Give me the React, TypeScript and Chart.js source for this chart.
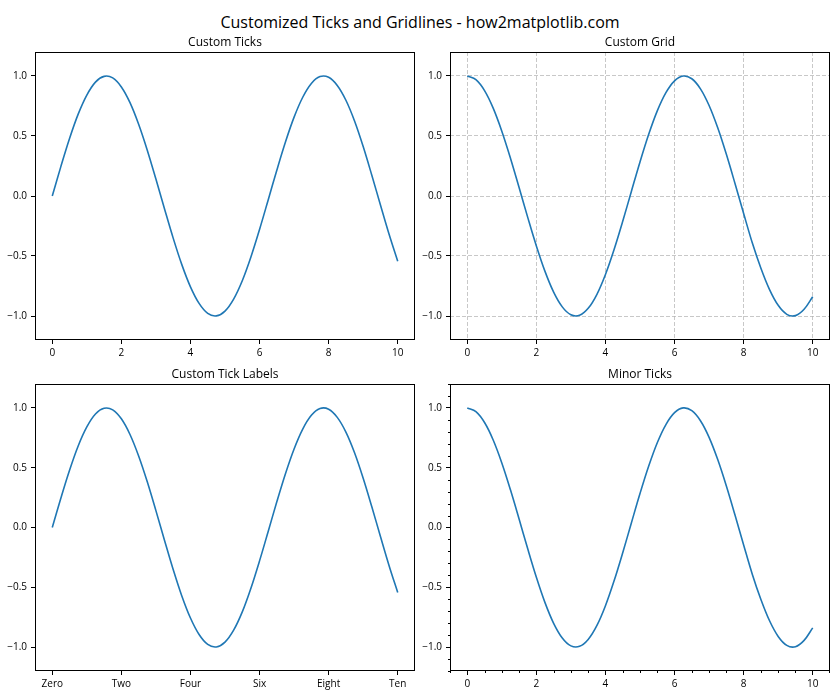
import React, { useEffect, useRef } from "react";
import { Chart, registerables } from "chart.js";

Chart.register(...registerables);

const mainTitle = "Customized Ticks and Gridlines - how2matplotlib.com";
const subplotTitles = ["Custom Ticks", "Custom Grid", "Custom Tick Labels", "Minor Ticks"];

const xValues = [
  0, 0.25, 0.5, 0.75, 1, 1.25, 1.5, 1.75, 2, 2.25, 2.5, 2.75, 3, 3.25, 3.5, 3.75, 4, 4.25, 4.5, 4.75,
  5, 5.25, 5.5, 5.75, 6, 6.25, 6.5, 6.75, 7, 7.25, 7.5, 7.75, 8, 8.25, 8.5, 8.75, 9, 9.25, 9.5, 9.75, 10,
];

const sineValues = [
  0, 0.247, 0.479, 0.682, 0.841, 0.949, 0.997, 0.984, 0.909, 0.778, 0.598, 0.382, 0.141, -0.108, -0.351,
  -0.572, -0.757, -0.895, -0.978, -0.999, -0.959, -0.859, -0.706, -0.508, -0.279, -0.033, 0.215, 0.45,
  0.657, 0.823, 0.938, 0.995, 0.989, 0.921, 0.798, 0.625, 0.412, 0.173, -0.075, -0.319, -0.544,
];

const cosineValues = [
  1, 0.969, 0.878, 0.732, 0.54, 0.315, 0.071, -0.178, -0.416, -0.628, -0.801, -0.924, -0.99, -0.994,
  -0.936, -0.821, -0.654, -0.446, -0.211, 0.038, 0.284, 0.512, 0.709, 0.861, 0.96, 1.0, 0.977, 0.893,
  0.754, 0.568, 0.347, 0.104, -0.146, -0.39, -0.602, -0.78, -0.911, -0.986, -0.997, -0.944, -0.839,
];

const xTickValues = [0, 2, 4, 6, 8, 10];
const yTickValues = [-1, -0.5, 0, 0.5, 1];
const wordTickLabels = ["Zero", "Two", "Four", "Six", "Eight", "Ten"];

const FONT = "'Open Sans', 'Noto Sans', 'DejaVu Sans', sans-serif";
const LINE_COLOR = "#1f77b4";

type PanelProps = {
  title: string;
  values: number[];
  grid: boolean;
  words: boolean;
  minor: boolean;
  left: number;
  top: number;
  width: number;
  height: number;
  axisHeight: number;
};

const boxPlugin = {
  id: "axesBox",
  afterDraw(chart: any) {
    const { ctx, chartArea } = chart;
    const l = Math.round(chartArea.left) + 0.5;
    const t = Math.round(chartArea.top) + 0.5;
    const r = Math.round(chartArea.right) - 0.5;
    const b = Math.round(chartArea.bottom) - 0.5;
    ctx.save();
    ctx.strokeStyle = "#000";
    ctx.lineWidth = 1;
    ctx.strokeRect(l, t, r - l, b - t);
    ctx.restore();
  },
};

const minorTickPlugin = {
  id: "minorTicks",
  afterDraw(chart: any) {
    const opts = chart.options.plugins.minorTicks;
    if (!opts || !opts.enabled) return;
    const { ctx, chartArea, scales } = chart;
    const xs = scales.x;
    const ys = scales.y;
    ctx.save();
    ctx.strokeStyle = "#000";
    ctx.lineWidth = 1;
    ctx.beginPath();
    for (let k = -2; k <= 22; k++) {
      if (k % 4 === 0) continue;
      const v = k * 0.5;
      if (v < xs.min - 1e-9 || v > xs.max + 1e-9) continue;
      let px = Math.round(xs.getPixelForValue(v)) + 0.5;
      if (px > chartArea.right) px = Math.round(chartArea.right) - 0.5;
      const b = Math.round(chartArea.bottom);
      ctx.moveTo(px, b);
      ctx.lineTo(px, b + 2);
    }
    for (let k = -12; k <= 12; k++) {
      if (k % 5 === 0) continue;
      const v = k / 10;
      if (v < ys.min - 1e-9 || v > ys.max + 1e-9) continue;
      const py = Math.round(ys.getPixelForValue(v)) + 0.5;
      const l = Math.round(chartArea.left);
      ctx.moveTo(l, py);
      ctx.lineTo(l - 2, py);
    }
    ctx.stroke();
    ctx.restore();
  },
};

function Panel(p: PanelProps) {
  const ref = useRef<HTMLCanvasElement | null>(null);
  useEffect(() => {
    if (!ref.current) return;
    const chart = new Chart(ref.current, {
      type: "line",
      data: {
        datasets: [
          {
            data: xValues.map((x, i) => ({ x, y: p.values[i] })),
            borderColor: LINE_COLOR,
            borderWidth: 1.6,
            pointRadius: 0,
            fill: false,
            tension: 0.35,
          },
        ],
      },
      options: {
        animation: false,
        responsive: false,
        events: [],
        layout: { padding: { left: 0, right: 10, top: 0, bottom: 0 } },
        plugins: {
          legend: { display: false },
          tooltip: { enabled: false },
          title: {
            display: true,
            text: p.title,
            fullSize: false,
            color: "#000",
            font: { family: FONT, size: 12, weight: "normal", lineHeight: "14px" },
            padding: { top: 6, bottom: 2 },
          },
          minorTicks: { enabled: p.minor },
        } as any,
        scales: {
          x: {
            type: "linear",
            min: -0.5,
            max: 10.5,
            afterBuildTicks: (s: any) => {
              s.ticks = xTickValues.map((v) => ({ value: v }));
            },
            afterFit: (s: any) => {
              s.height = p.axisHeight;
            },
            ticks: {
              autoSkip: false,
              maxRotation: 0,
              color: "#000",
              padding: 3,
              font: { family: FONT, size: 10 },
              callback: (v: any) => {
                const i = xTickValues.indexOf(Number(v));
                return p.words ? wordTickLabels[i] : String(v);
              },
            },
            grid: {
              drawOnChartArea: p.grid,
              color: "rgba(176,176,176,0.7)",
              lineWidth: 1,
              drawTicks: true,
              tickLength: 4,
              tickColor: "#000",
              tickWidth: 1,
              tickBorderDash: [],
            },
            border: { display: false, dash: [4, 2] },
          },
          y: {
            type: "linear",
            min: -1.2,
            max: 1.2,
            afterBuildTicks: (s: any) => {
              s.ticks = yTickValues.map((v) => ({ value: v }));
            },
            afterFit: (s: any) => {
              s.width = 35;
            },
            ticks: {
              autoSkip: false,
              color: "#000",
              padding: 4,
              font: { family: FONT, size: 10 },
              callback: (v: any) => Number(v).toFixed(1).replace("-", "\u2212"),
            },
            grid: {
              drawOnChartArea: p.grid,
              color: "rgba(176,176,176,0.7)",
              lineWidth: 1,
              drawTicks: true,
              tickLength: 4,
              tickColor: "#000",
              tickWidth: 1,
              tickBorderDash: [],
            },
            border: { display: false, dash: [4, 2] },
          },
        },
      } as any,
      plugins: [boxPlugin, minorTickPlugin],
    });
    return () => chart.destroy();
  }, []);
  return (
    <canvas
      ref={ref}
      width={p.width}
      height={p.height}
      style={{ position: "absolute", left: p.left, top: p.top, width: p.width, height: p.height }}
    />
  );
}

export default function App() {
  return (
    <div
      style={{
        position: "absolute",
        left: 0,
        top: 0,
        width: 840,
        height: 700,
        background: "#fff",
        overflow: "hidden",
      }}
    >
      <div
        style={{
          position: "absolute",
          left: 0,
          top: 12,
          width: 840,
          textAlign: "center",
          fontFamily: FONT,
          fontSize: 16,
          lineHeight: "20px",
          color: "#000",
        }}
      >
        {mainTitle}
      </div>
      <Panel title={subplotTitles[0]} values={sineValues} grid={false} words={false} minor={false}
        left={0} top={30} width={425} height={340} axisHeight={30} />
      <Panel title={subplotTitles[1]} values={cosineValues} grid={true} words={false} minor={false}
        left={415} top={30} width={425} height={340} axisHeight={30} />
      <Panel title={subplotTitles[2]} values={sineValues} grid={false} words={true} minor={false}
        left={0} top={362} width={425} height={338} axisHeight={29} />
      <Panel title={subplotTitles[3]} values={cosineValues} grid={false} words={false} minor={true}
        left={415} top={362} width={425} height={338} axisHeight={29} />
    </div>
  );
}
